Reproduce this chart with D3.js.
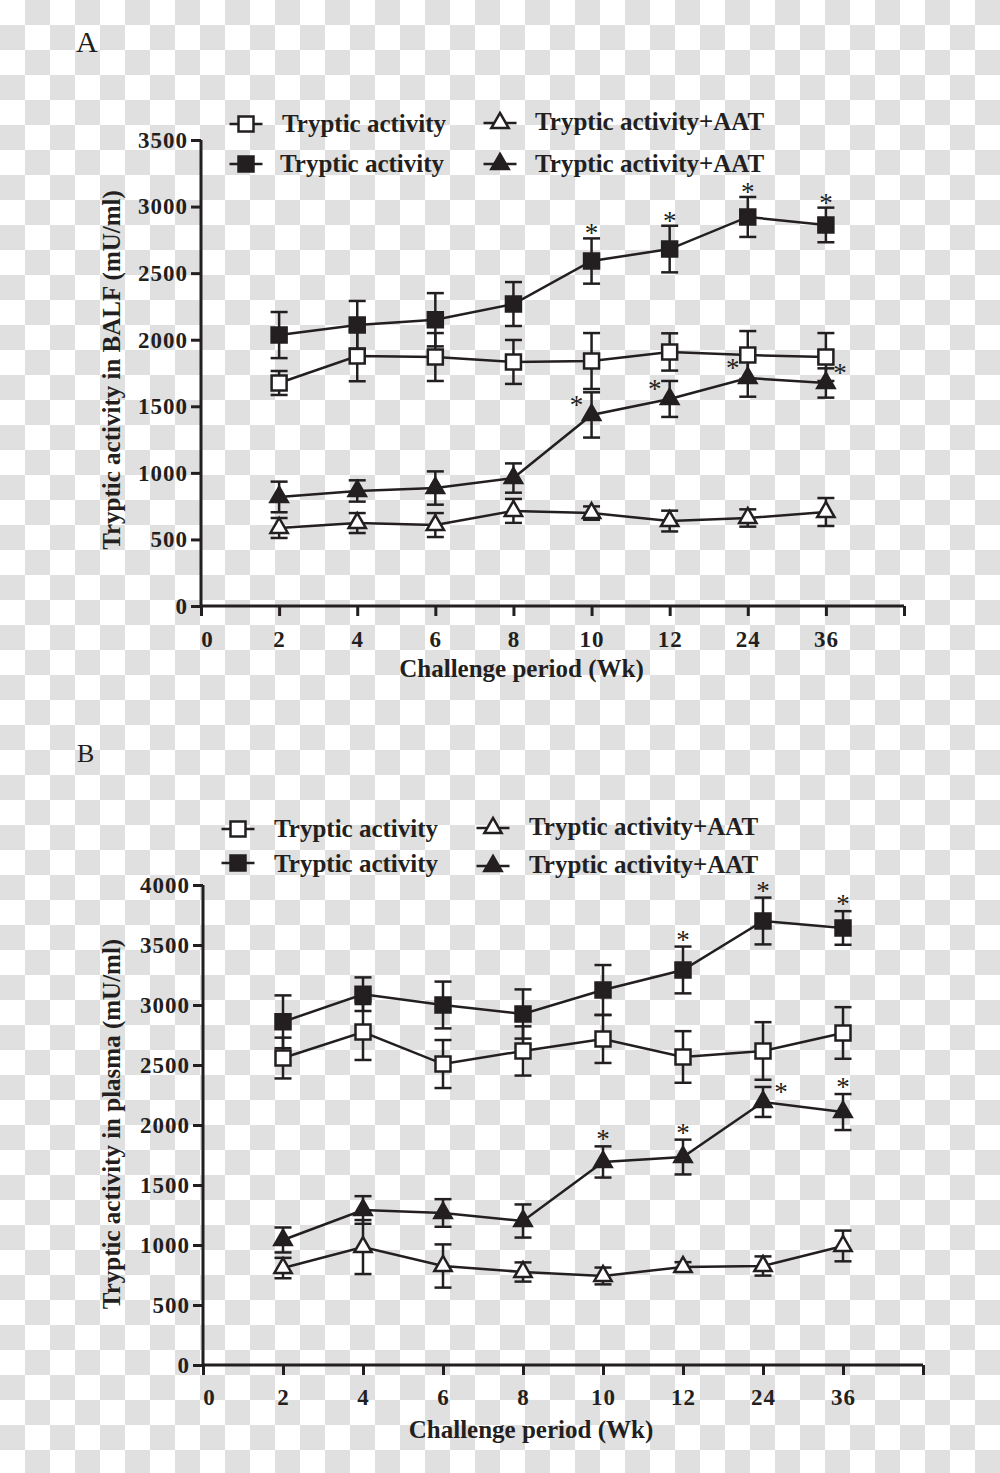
<!DOCTYPE html>
<html><head><meta charset="utf-8">
<script src="https://cdn.jsdelivr.net/npm/d3@7"></script>
<style>body{margin:0;background:#fff} svg{display:block}</style>
</head><body>
<svg id="chart" width="1000" height="1473"></svg>
<script>
// ---------- data ----------
const weekLabels = ["0","2","4","6","8","10","12","24","36",""];
const pointIndex = [1,2,3,4,5,6,7,8];
const legendLabels = ["Tryptic activity","Tryptic activity","Tryptic activity+AAT","Tryptic activity+AAT"];

// Panel A – BALF
const balfTicks = [0,500,1000,1500,2000,2500,3000,3500];
const balfOpenSq      = [1675,1878,1870,1833,1840,1908,1885,1870];
const balfOpenSqErr   = [90,190,180,165,210,140,180,180];
const balfFilledSq    = [2035,2111,2150,2268,2591,2681,2922,2862];
const balfFilledSqErr = [173,180,200,165,170,175,150,130];
const balfOpenTri     = [586,623,608,714,698,638,661,706];
const balfOpenTriErr  = [75,75,90,90,50,78,65,105];
const balfFilledTri   = [819,864,886,961,1435,1555,1712,1675];
const balfFilledTriErr= [115,80,125,110,170,135,140,110];
const balfSqStar  = ["","","","","top","top","top","top"];
const balfTriStar = ["","","","","left","left","left","right"];

// Panel B – plasma
const plasmaTicks = [0,500,1000,1500,2000,2500,3000,3500,4000];
const plasmaOpenSq      = [2558,2775,2508,2617,2717,2567,2617,2767];
const plasmaOpenSqErr   = [170,233,200,205,200,215,240,215];
const plasmaFilledSq    = [2860,3090,3000,2925,3125,3292,3700,3642];
const plasmaFilledSqErr = [220,140,195,205,208,195,195,140];
const plasmaOpenTri     = [808,983,825,775,742,817,825,992];
const plasmaOpenTriErr  = [85,225,180,80,70,40,80,128];
const plasmaFilledTri   = [1042,1292,1267,1200,1692,1733,2192,2108];
const plasmaFilledTriErr= [104,115,115,138,130,145,125,150];
const plasmaSqStar  = ["","","","","","top","top","top"];
const plasmaTriStar = ["","","","","top","top","right","top"];

// ---------- drawing ----------
const INK = "#231f20";
const FONT = "'Liberation Serif','Times New Roman',serif";
const svg = d3.select("#chart");

// checkerboard background
const defs = svg.append("defs");
const pat = defs.append("pattern").attr("id","checker").attr("width",50).attr("height",50)
  .attr("patternUnits","userSpaceOnUse");
pat.append("rect").attr("width",50).attr("height",50).attr("fill","#ffffff");
pat.append("rect").attr("x",25).attr("y",0).attr("width",25).attr("height",25).attr("fill","#e0e0e0");
pat.append("rect").attr("x",0).attr("y",25).attr("width",25).attr("height",25).attr("fill","#e0e0e0");
svg.append("rect").attr("width",1000).attr("height",1473).attr("fill","url(#checker)");

const symSquare = d3.symbol().type(d3.symbolSquare).size(225);
const symTri = d3.symbol().type(d3.symbolTriangle).size(130);

function drawPanel(p){
  const g = svg.append("g");
  const x = d3.scaleLinear().domain([0, weekLabels.length-1]).range([p.x0, p.x1]);
  const y = d3.scaleLinear().domain([0, p.yMax]).range([p.yBottom, p.yTop]);

  // panel letter
  g.append("text").attr("x",p.letterX).attr("y",p.letterY).text(p.letter)
    .attr("font-family",FONT).attr("font-size",p.letterSize).attr("fill",INK);

  // axes
  const yAxis = d3.axisLeft(y).tickValues(p.ticks).tickSize(10).tickPadding(4).tickFormat(d3.format("d"));
  const gy = g.append("g").attr("transform",`translate(${p.x0},0)`).call(yAxis);
  const xAxis = d3.axisBottom(x).tickValues(d3.range(weekLabels.length)).tickSize(10)
    .tickFormat(i=>weekLabels[i]);
  const gx = g.append("g").attr("transform",`translate(0,${p.yBottom})`).call(xAxis);
  [gx,gy].forEach(a=>{
    a.select(".domain").attr("stroke",INK).attr("stroke-width",3);
    a.selectAll(".tick line").attr("stroke",INK).attr("stroke-width",3);
    a.selectAll(".tick text").attr("fill",INK).attr("font-family",FONT)
      .attr("font-weight","bold").attr("font-size",23).attr("letter-spacing",1);
  });
  gy.select(".domain").attr("d",`M0,${p.yTop}V${p.yBottom}`);
  gy.selectAll(".tick text").attr("x",-13);
  gx.select(".domain").attr("d",`M${p.x0},0H${p.x1}`);
  gx.selectAll(".tick text").attr("y",p.xLabelDy).attr("dy",0);
  gx.selectAll(".tick text").filter(i=>i===0).attr("dx",6);

  // axis titles
  g.append("text").attr("x",(p.x0+p.x1)/2 + p.xTitleShift).attr("y",p.yBottom+p.xTitleDy)
    .attr("text-anchor","middle").attr("font-family",FONT).attr("font-weight","bold")
    .attr("font-size",25).attr("fill",INK).text("Challenge period (Wk)");
  g.append("text").attr("transform",`translate(120,${p.yTitleY}) rotate(-90)`)
    .attr("text-anchor","middle").attr("font-family",FONT).attr("font-weight","bold")
    .attr("font-size",25).attr("fill",INK).text(p.yTitle);

  // series
  const line = d3.line().x((d,i)=>x(pointIndex[i])).y(d=>y(d));
  p.series.forEach(s=>{
    const sg = g.append("g");
    sg.append("path").datum(s.values).attr("d",line).attr("fill","none")
      .attr("stroke",INK).attr("stroke-width",2.5);
    const pts = s.values.map((v,i)=>({v, e:s.err[i], cx:x(pointIndex[i]), t:s.stars?s.stars[i]:""}));
    const eb = sg.selectAll(".eb").data(pts).enter().append("g");
    eb.append("line").attr("x1",d=>d.cx).attr("x2",d=>d.cx)
      .attr("y1",d=>y(d.v+d.e)).attr("y2",d=>y(d.v-d.e))
      .attr("stroke",INK).attr("stroke-width",2.5);
    [1,-1].forEach(sign=>{
      eb.append("line").attr("x1",d=>d.cx-8.5).attr("x2",d=>d.cx+8.5)
        .attr("y1",d=>y(d.v+sign*d.e)).attr("y2",d=>y(d.v+sign*d.e))
        .attr("stroke",INK).attr("stroke-width",2.5);
    });
    sg.selectAll(".mk").data(pts).enter().append("path")
      .attr("d", s.shape==="sq" ? symSquare : symTri)
      .attr("transform",d=>`translate(${d.cx},${y(d.v)})`)
      .attr("fill", s.filled ? INK : "#fff").attr("stroke",INK).attr("stroke-width",2.5);
    sg.selectAll(".st").data(pts.filter(d=>d.t!=="")).enter().append("text")
      .attr("x",d=>d.t==="left"?d.cx-15:(d.t==="right"?d.cx+p.starRight:d.cx))
      .attr("y",d=>(d.t==="top"? y(d.v+d.e)-p.starTop : y(d.v)-13) + 12)
      .attr("text-anchor","middle").attr("font-family",FONT).attr("font-size",27)
      .attr("fill",INK).text("*");
  });

  // legend
  p.legend.forEach((L,k)=>{
    const lg = g.append("g");
    lg.append("line").attr("x1",L.mx-16.5).attr("x2",L.mx+16.5).attr("y1",L.my).attr("y2",L.my)
      .attr("stroke",INK).attr("stroke-width",2.5);
    lg.append("path").attr("d", L.shape==="sq"?symSquare:symTri)
      .attr("transform",`translate(${L.mx},${L.my})`)
      .attr("fill",L.filled?INK:"#fff").attr("stroke",INK).attr("stroke-width",2.5);
    lg.append("text").attr("x",L.tx).attr("y",L.ty).text(legendLabels[k])
      .attr("font-family",FONT).attr("font-weight","bold").attr("font-size",25).attr("fill",INK);
  });
}

drawPanel({
  letter:"A", letterX:76, letterY:52, letterSize:30,
  x0:201, x1:904, yTop:140, yBottom:606, yMax:3500, ticks:balfTicks,
  xLabelDy:41, xTitleDy:71, xTitleShift:-31, yTitleY:370,
  yTitle:"Tryptic activity in BALF (mU/ml)",
  starTop:8, starRight:14,
  series:[
    {values:balfOpenTri, err:balfOpenTriErr, shape:"tri", filled:false},
    {values:balfFilledTri, err:balfFilledTriErr, shape:"tri", filled:true, stars:balfTriStar},
    {values:balfOpenSq, err:balfOpenSqErr, shape:"sq", filled:false},
    {values:balfFilledSq, err:balfFilledSqErr, shape:"sq", filled:true, stars:balfSqStar}
  ],
  legend:[
    {mx:246, my:124, shape:"sq", filled:false, tx:282, ty:132},
    {mx:246, my:164, shape:"sq", filled:true, tx:280, ty:172},
    {mx:500, my:123, shape:"tri", filled:false, tx:535, ty:130},
    {mx:500, my:164, shape:"tri", filled:true, tx:535, ty:172}
  ]
});

drawPanel({
  letter:"B", letterX:77, letterY:762, letterSize:26,
  x0:203, x1:923, yTop:885, yBottom:1365, yMax:4000, ticks:plasmaTicks,
  xLabelDy:40, xTitleDy:73, xTitleShift:-32, yTitleY:1124,
  yTitle:"Tryptic activity in plasma (mU/ml)",
  starTop:10, starRight:18,
  series:[
    {values:plasmaOpenTri, err:plasmaOpenTriErr, shape:"tri", filled:false},
    {values:plasmaFilledTri, err:plasmaFilledTriErr, shape:"tri", filled:true, stars:plasmaTriStar},
    {values:plasmaOpenSq, err:plasmaOpenSqErr, shape:"sq", filled:false},
    {values:plasmaFilledSq, err:plasmaFilledSqErr, shape:"sq", filled:true, stars:plasmaSqStar}
  ],
  legend:[
    {mx:238, my:829, shape:"sq", filled:false, tx:274, ty:837},
    {mx:238, my:863, shape:"sq", filled:true, tx:274, ty:872},
    {mx:493, my:828, shape:"tri", filled:false, tx:529, ty:835},
    {mx:493, my:866, shape:"tri", filled:true, tx:529, ty:873}
  ]
});
</script>
</body></html>
